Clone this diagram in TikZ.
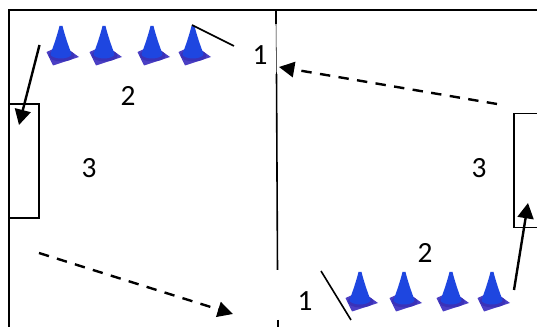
\documentclass[tikz,border=0pt]{standalone}
\usepackage{fontspec}
\setmainfont{Carlito}
\usetikzlibrary{arrows.meta}
\tikzset{
  x=0.75pt,y=-0.75pt,
  frameline/.style={draw=black,line width=1.7pt},
  thinframe/.style={draw=black,line width=1.2pt},
  solidarrow/.style={draw=black,line width=1.8pt,-{Triangle[length=11.5pt,width=12pt]}},
  dasharrow/.style={draw=black,line width=1.8pt,dash pattern=on 7.8pt off 6.3pt,-{Triangle[length=11.5pt,width=11.5pt]}},
  stroke/.style={draw=black,line width=1.2pt},
  lbl/.style={font=\fontsize{22}{22}\selectfont,inner sep=0pt,text=black},
  cone/.pic={
    \fill[fill=plateblue] (-14.5,26) -- (1,19) -- (18,31) -- (-8,39.5) -- cycle;
    \fill[fill=platedark] (0.5,29.5) ellipse [x radius=13,y radius=6];
    \shade[left color=coneleft,middle color=conemid,right color=coneleft]
      (-1.5,0) .. controls (-4,10) and (-7.5,20) .. (-10.5,28) arc (180:0:10.5 and 4.5) .. controls (7.5,20) and (4,10) .. (1.5,0) -- cycle;
  }
}
\definecolor{plateblue}{HTML}{4B3FC4}
\definecolor{platedark}{HTML}{3A32B8}
\definecolor{coneleft}{HTML}{1E46E0}
\definecolor{conemid}{HTML}{2F6BFF}
\begin{document}
\begin{tikzpicture}
\useasboundingbox (0,0) rectangle (537,327);
\fill[white] (0,0) rectangle (537,327);
% frame
\coordinate (tl) at (9,10); \coordinate (tr) at (537,10); \coordinate (bl) at (9,327);
\draw[frameline] (bl) -- (tl) -- (tr);
% centre line
\coordinate (m1) at (276,10); \coordinate (m2) at (276,24);
\coordinate (m3) at (276.5,74); \coordinate (m4) at (277.5,270);
\coordinate (m5) at (278,320); \coordinate (m6) at (278,327);
\draw[frameline] (m1) -- (m2);
\draw[draw=black,line width=0.4pt] (m2) -- (m3);
\draw[thinframe] (m3) -- (m4);
\draw[frameline] (m5) -- (m6);
% goals
\coordinate (g1a) at (9,104); \coordinate (g1b) at (39,104);
\coordinate (g1c) at (39,218); \coordinate (g1d) at (9,218);
\draw[thinframe] (g1a) -- (g1b) -- (g1c) -- (g1d);
\coordinate (g2a) at (537,113.5); \coordinate (g2b) at (514,113.5);
\coordinate (g2c) at (514,227.5); \coordinate (g2d) at (537,227.5);
\draw[thinframe] (g2a) -- (g2b) -- (g2c) -- (g2d);
% cones
\foreach \cx in {61,104,152,193} \pic at (\cx,26) {cone};
\foreach \cx in {360,404,451,492} \pic at (\cx,272) {cone};
% arrows and strokes
\coordinate (a1) at (39.5,45); \coordinate (a2) at (19,125);
\draw[solidarrow] (a1) -- (a2);
\coordinate (a3) at (514,290); \coordinate (a4) at (528,203);
\draw[solidarrow] (a3) -- (a4);
\coordinate (d1) at (39,253); \coordinate (d2) at (233,314);
\draw[dasharrow] (d1) -- (d2);
\coordinate (d3) at (497,104); \coordinate (d4) at (279,67);
\draw[dasharrow] (d3) -- (d4);
\coordinate (s1) at (192,25); \coordinate (s2) at (234,46);
\draw[stroke] (s1) -- (s2);
\coordinate (s3) at (321,271); \coordinate (s4) at (351,320);
\draw[stroke] (s3) -- (s4);
% labels
\node[lbl] (n1a) at (260,55) {1};
\node[lbl] (n2a) at (128,96) {2};
\node[lbl] (n3a) at (89,168) {3};
\node[lbl] (n3b) at (479,168) {3};
\node[lbl] (n2b) at (425,253) {2};
\node[lbl] (n1b) at (305,301) {1};
\end{tikzpicture}
\end{document}
